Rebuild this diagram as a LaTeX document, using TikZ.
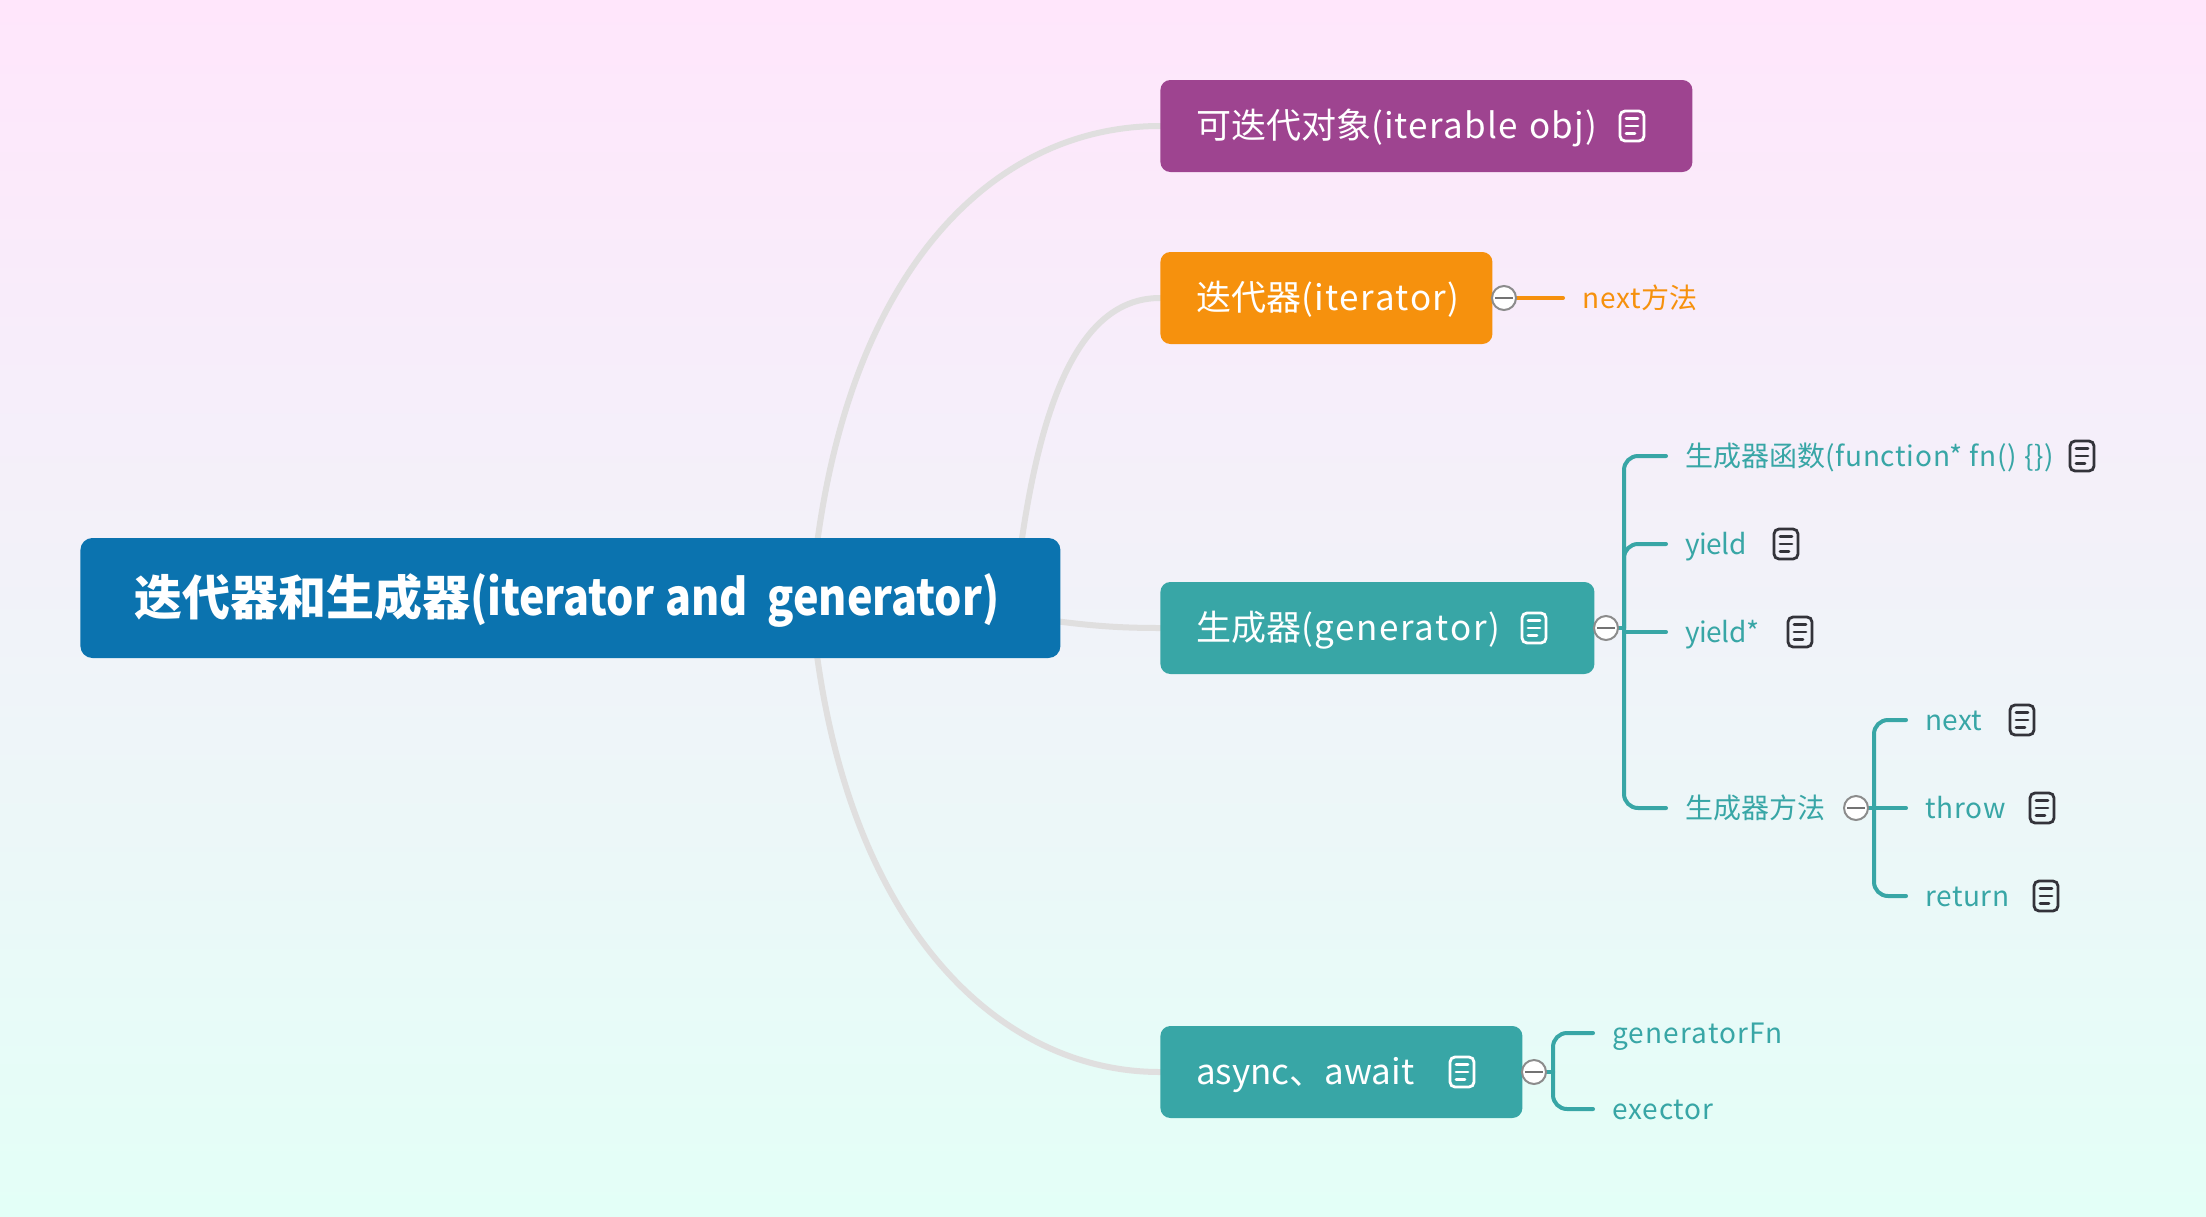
\documentclass[tikz,border=0pt]{standalone}
\usepackage{fontspec}
\usepackage{graphicx}
\setmainfont{Noto Sans CJK SC}
\usetikzlibrary{backgrounds}
\definecolor{bgtop}{HTML}{FFE6FB}
\definecolor{bgbot}{HTML}{E3FFF7}
\definecolor{cpurple}{HTML}{9E4490}
\definecolor{corange}{HTML}{F6910D}
\definecolor{cteal}{HTML}{38A6A6}
\definecolor{cblue}{HTML}{0B73AF}
\definecolor{cgrey}{HTML}{E0DFDF}
\definecolor{cicon}{HTML}{33333A}
\newcommand\lsp[2]{{\addfontfeature{LetterSpace=#1}#2}}
\tikzset{
  x=0.5pt,y=-0.5pt,
  rootbox/.style={anchor=west,fill=cblue,text=white,rounded corners=6pt,minimum height=60pt,inner xsep=0pt,inner ysep=0pt,font=\fontsize{24}{28}\selectfont\bfseries,align=left,text height=20.5pt,text depth=3.5pt},
  topicbox/.style={anchor=west,text=white,rounded corners=5pt,minimum height=46pt,inner xsep=0pt,inner ysep=0pt,font=\fontsize{17.5}{21}\selectfont,align=left,text height=15pt,text depth=3pt},
  leaf/.style={anchor=west,inner xsep=9.5pt,inner ysep=0pt,font=\fontsize{14}{17}\selectfont,text height=12.4pt,text depth=2.1pt},
  rootline/.style={draw=cgrey,line width=3pt,line cap=round},
  branch/.style={line width=2pt,line cap=round},
  collapse/.style={circle,draw=gray!90,fill=white,line width=1pt,minimum size=12pt,inner sep=0pt,path picture={\draw[gray!90!black,line width=1pt] ([xshift=1.5pt]path picture bounding box.west) -- ([xshift=-1.5pt]path picture bounding box.east);}},
  pics/note/.style={code={
    \draw[#1,line width=1.4pt,rounded corners=2.5pt] (-12,-15) rectangle (12,15);
    \draw[#1,line width=1.4pt,line cap=round] (-6,-7.5) -- (6,-7.5) (-6,0) -- (6,0) (-6,7.5) -- (3,7.5);
  }}
}
\begin{document}
\begin{tikzpicture}
\pgfdeclarelayer{background}\pgfsetlayers{background,main}
\useasboundingbox (0,0) rectangle (2206,1216);
\begin{pgfonlayer}{background}
  \fill[top color=bgtop,bottom color=bgbot] (0,0) rectangle (2206,1216);
\end{pgfonlayer}

% main boxes
\node[rootbox,minimum width=490pt,text width=436.4pt] (root) at (80,598) {迭代器和生成器\scalebox{.897}[1.04]{(iterator\hspace{.26em}and\hspace{.45em}generator)}};
\node[topicbox,fill=cpurple,minimum width=266pt,text width=230.4pt] (n1) at (1160,126) {可迭代对象\lsp{3.5}{(iterable obj)}};
\node[topicbox,fill=corange,minimum width=166pt,text width=130.4pt] (n2) at (1160,298) {迭代器\lsp{4.5}{(iterator)}};
\node[topicbox,fill=cteal,minimum width=217pt,text width=181.4pt] (n3) at (1160,628) {生成器\lsp{4.8}{(generator)}};
\node[topicbox,fill=cteal,minimum width=181pt,text width=145.4pt] (n4) at (1160,1072) {async、await};

% collapse markers
\node[collapse] (c2) at (1504,298) {};
\node[collapse] (c3) at (1606,628) {};
\node[collapse] (c3s) at (1856,808) {};
\node[collapse] (c4) at (1534,1072) {};

% leaves
\node[leaf,text=corange] (l21) at (1563,298) {\lsp{3}{next}方法};
\node[leaf,text=cteal] (l31) at (1666,456) {生成器函数\lsp{2.6}{(function* fn() \{\})}};
\node[leaf,text=cteal] (l32) at (1666,544) {\lsp{-1.5}{yield}};
\node[leaf,text=cteal] (l33) at (1666,632) {\lsp{-1.5}{yield*}};
\node[leaf,text=cteal] (l34) at (1666,808) {生成器方法};
\node[leaf,text=cteal] (l41) at (1906,720) {\lsp{1}{next}};
\node[leaf,text=cteal] (l42) at (1906,808) {\lsp{2.5}{throw}};
\node[leaf,text=cteal] (l43) at (1906,896) {\lsp{2}{return}};
\node[leaf,text=cteal] (l51) at (1593,1033) {\lsp{4}{generatorFn}};
\node[leaf,text=cteal] (l52) at (1593,1109) {\lsp{3}{exector}};

% root connectors
\coordinate (r1) at (815,560);
\coordinate (r2) at (1019,560);
\coordinate (r3) at (1040,619);
\coordinate (r4) at (815,640);
\begin{pgfonlayer}{background}
  \draw[rootline] (r1) .. controls (850,260) and (1000,126) .. (n1.west);
  \draw[rootline] (r2) .. controls (1040,400) and (1080,298) .. (n2.west);
  \draw[rootline] (r3) .. controls (1090,626) and (1120,628) .. (n3.west);
  \draw[rootline] (r4) .. controls (850,930) and (1000,1072) .. (n4.west);
\end{pgfonlayer}

% branches
\begin{pgfonlayer}{background}
  \draw[branch,corange] (c2.center) -- (l21.west);
  \coordinate (t3) at (1624,628);
  \draw[branch,cteal] (c3.center) -- (t3);
  \draw[branch,cteal,rounded corners=7pt] (t3) |- (l31.west);
  \draw[branch,cteal,rounded corners=7pt] (t3) |- (l32.west);
  \draw[branch,cteal] (t3 |- l33.west) -- (l33.west);
  \draw[branch,cteal,rounded corners=7pt] (t3) |- (l34.west);
  \coordinate (t3s) at (1874,808);
  \draw[branch,cteal] (c3s.center) -- (l42.west);
  \draw[branch,cteal,rounded corners=7pt] (t3s) |- (l41.west);
  \draw[branch,cteal,rounded corners=7pt] (t3s) |- (l43.west);
  \coordinate (t4) at (1553,1072);
  \draw[branch,cteal] (c4.center) -- (t4);
  \draw[branch,cteal,rounded corners=7pt] (t4) |- (l51.west);
  \draw[branch,cteal,rounded corners=7pt] (t4) |- (l52.west);
\end{pgfonlayer}

% note icons
\pic at (1632,126) {note=white};
\pic at (1534,628) {note=white};
\pic at (1462,1072) {note=white};
\pic at (2082,456) {note=cicon};
\pic at (1786,544) {note=cicon};
\pic at (1800,632) {note=cicon};
\pic at (2022,720) {note=cicon};
\pic at (2042,808) {note=cicon};
\pic at (2046,896) {note=cicon};
\end{tikzpicture}
\end{document}
